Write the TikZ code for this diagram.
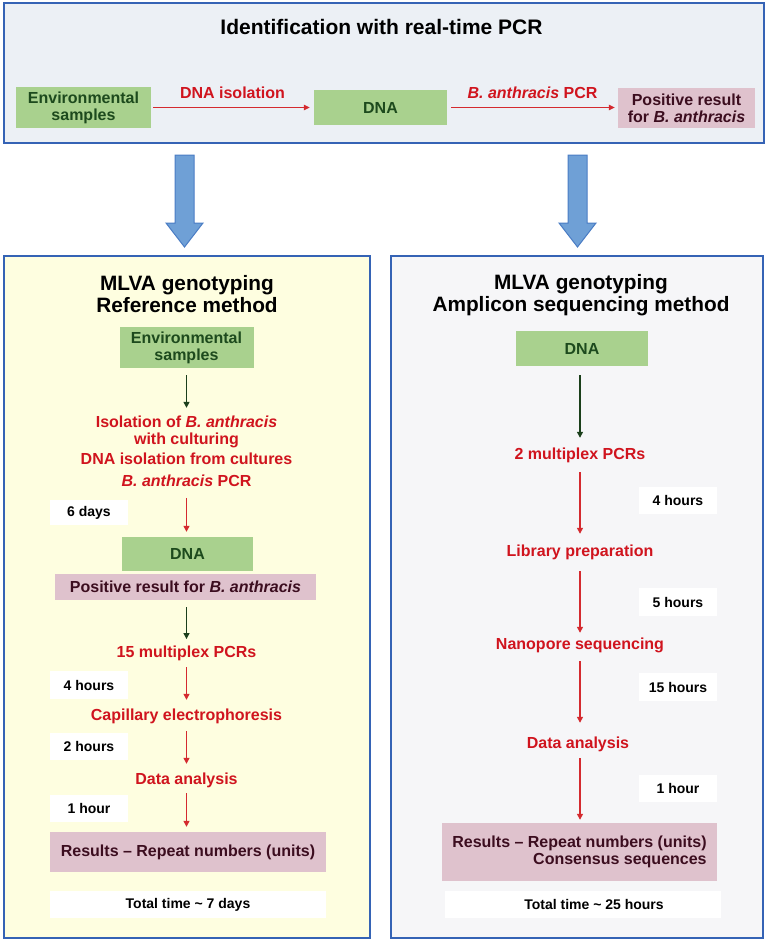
\documentclass[tikz,border=0pt]{standalone}
\usepackage{fontspec}
\setmainfont{Liberation Sans}
\usetikzlibrary{arrows.meta}
\definecolor{topfill}{HTML}{ECF0F5}
\definecolor{panelborder}{HTML}{3563B5}
\definecolor{yellowfill}{HTML}{FEFEE0}
\definecolor{greyfill}{HTML}{F6F6F8}
\definecolor{boxgreen}{HTML}{A9D18E}
\definecolor{txtgreen}{HTML}{1D4A1D}
\definecolor{boxpink}{HTML}{DFC2CD}
\definecolor{txtpink}{HTML}{3C0D1F}
\definecolor{txtred}{HTML}{D0141E}
\definecolor{arrred}{HTML}{D42A2F}
\definecolor{arrgreen}{HTML}{1B3F1B}
\definecolor{bafill}{HTML}{6FA0D6}
\definecolor{badraw}{HTML}{4A7CC4}
\tikzset{
  panel/.style={draw=panelborder, line width=1.3pt, inner sep=0pt, rectangle},
  fbox/.style={rectangle, inner sep=0pt, align=center, font=\fontsize{16}{17}\selectfont\bfseries},
  greenbox/.style={fbox, fill=boxgreen, text=txtgreen},
  pinkbox/.style={fbox, fill=boxpink, text=txtpink},
  timebox/.style={rectangle, inner sep=0pt, fill=white, text=black, font=\fontsize{14}{16}\selectfont\bfseries, minimum width=78pt},
  steptxt/.style={inner sep=0pt, text=txtred, align=center, font=\fontsize{16}{17}\selectfont\bfseries},
  oneline/.style={text height=11.5pt, text depth=0pt},
  redarr/.style={draw=arrred, line width=1.3pt, -{Triangle[length=6pt,width=6pt]}},
  grnarr/.style={draw=arrgreen, line width=1.3pt, -{Triangle[length=6pt,width=6pt]}},
  thinred/.style={draw=arrred, line width=1pt, -{Triangle[length=6pt,width=5.5pt]}},
  paneltitle/.style={inner sep=0pt, align=center, text=black, font=\fontsize{20.8}{22}\selectfont\bfseries},
  blockarr/.style={fill=bafill, draw=badraw, line width=1pt, line join=miter},
}
\begin{document}
\begin{tikzpicture}[x=1pt,y=-1pt]
\useasboundingbox (0,0) rectangle (767,942);
% panels
\node[panel, fill=topfill, minimum width=760pt, minimum height=140pt] (top) at (384,73) {};
\node[panel, fill=yellowfill, minimum width=366pt, minimum height=682pt] (lp) at (187,597) {};
\node[panel, fill=greyfill, minimum width=372pt, minimum height=682pt] (rp) at (577,597) {};
% top title
\node[inner sep=0pt, text=black, font=\fontsize{21}{24}\selectfont\bfseries, text height=15pt, text depth=0pt] (ttl) at (381.5,27.5) {Identification with real-time PCR};
% top row
\node[greenbox, minimum width=135pt, minimum height=41pt] (env1) at (83.5,107.5) {Environmental\\samples};
\node[greenbox, minimum width=133pt, minimum height=35pt] (dna1) at (380.5,107.5) {DNA};
\node[pinkbox, minimum width=137pt, minimum height=40pt] (pos1) at (686.5,108) {Positive result\\for \textit{B. anthracis}};
\draw[thinred, shorten <=2pt, shorten >=4pt] (env1) -- node[steptxt, oneline, above=9pt] (l1) {DNA isolation} (dna1);
\draw[thinred, shorten <=4pt, shorten >=3pt] (dna1.east) -- node[steptxt, oneline, above=9pt] (l2) {\textit{B. anthracis} PCR} (dna1.east -| pos1.west);
% block arrows
\draw[blockarr] (175,155) -- (194,155) -- (194,223) -- (203,223) -- (184.5,247) -- (166,223) -- (175,223) -- cycle;
\draw[blockarr] (568,155) -- (587,155) -- (587,223) -- (596,223) -- (577.5,247) -- (559,223) -- (568,223) -- cycle;
% left column
\node[paneltitle] (tl) at (187,293.7) {MLVA genotyping\\Reference method};
\node[greenbox, minimum width=134pt, minimum height=41pt] (env2) at (186.5,347.5) {Environmental\\samples};
\node[steptxt] (iso) at (186.5,451.4) {Isolation of \textit{B. anthracis}\\with culturing\\[3pt]DNA isolation from cultures\\[5pt]\textit{B. anthracis} PCR};
\draw[grnarr, shorten <=7pt, shorten >=8pt] (env2) -- (iso);
\node[timebox, minimum height=25pt] (d6) at (89,512.5) {6 days};
\node[greenbox, minimum width=131pt, minimum height=34pt] (dna2) at (187.5,554) {DNA};
\draw[redarr, shorten <=11pt, shorten >=5pt] (iso.south) -- (iso.south |- dna2.north);
\node[pinkbox, minimum width=261pt, minimum height=26pt] (pos2) at (185.5,587) {Positive result for \textit{B. anthracis}};
\node[steptxt, oneline] (p15) at (186.5,652) {15 multiplex PCRs};
\draw[grnarr, shorten <=7pt, shorten >=7pt] (pos2.south -| p15) -- (p15);
\node[timebox, minimum height=28pt] (h4) at (89,685) {4 hours};
\node[steptxt, oneline] (cap) at (186.5,715) {Capillary electrophoresis};
\draw[redarr, shorten <=9.25pt, shorten >=9.25pt] (p15) -- (cap);
\node[timebox, minimum height=27pt] (h2) at (89,746.5) {2 hours};
\node[steptxt, oneline] (da1) at (186.5,779) {Data analysis};
\draw[redarr, shorten <=10.25pt, shorten >=9.25pt] (cap) -- (da1);
\node[timebox, minimum height=27pt] (h1) at (89,808.5) {1 hour};
\node[pinkbox, minimum width=276pt, minimum height=40pt] (res1) at (188,852) {Results \textendash{} Repeat numbers (units)};
\draw[redarr, shorten <=8.25pt, shorten >=5pt] (da1) -- (da1 |- res1.north);
\node[timebox, minimum width=276pt, minimum height=27pt] (tot1) at (188,904.5) {Total time \textasciitilde{} 7 days};
% right column
\node[paneltitle] (tr) at (581,294.8) {MLVA genotyping\\Amplicon sequencing method};
\node[greenbox, minimum width=132pt, minimum height=35pt] (dna3) at (582,348.5) {DNA};
\node[steptxt, oneline] (p2) at (580,454) {2 multiplex PCRs};
\draw[grnarr, shorten <=9pt, shorten >=10.25pt] (dna3.south -| p2) -- (p2);
\node[timebox, minimum height=27pt] (h4r) at (678,500.5) {4 hours};
\node[steptxt, oneline] (lib) at (580,551) {Library preparation};
\draw[redarr, shorten <=12.25pt, shorten >=11.25pt] (p2) -- (lib);
\node[timebox, minimum height=28pt] (h5r) at (678,602) {5 hours};
\node[steptxt, oneline] (nano) at (580,644) {Nanopore sequencing};
\draw[redarr, shorten <=14.25pt, shorten >=5.25pt] (lib) -- (nano);
\node[timebox, minimum height=28pt] (h15r) at (678,687) {15 hours};
\node[steptxt, oneline] (da2) at (578,743) {Data analysis};
\draw[redarr, shorten <=11.25pt, shorten >=14.25pt] (nano) -- (nano |- da2.north);
\node[timebox, minimum height=27pt] (h1r) at (678,788.5) {1 hour};
\node[pinkbox, align=right, minimum width=275pt, minimum height=58pt] (res2) at (579.5,852) {Results \textendash{} Repeat numbers (units)\\Consensus sequences};
\draw[redarr, shorten <=9.25pt, shorten >=3pt] (nano |- da2.south) -- (nano |- res2.north);
\node[timebox, minimum width=276pt, minimum height=27pt] (tot2) at (583,904.5) {\hspace*{22pt}Total time \textasciitilde{} 25 hours};
\end{tikzpicture}
\end{document}
